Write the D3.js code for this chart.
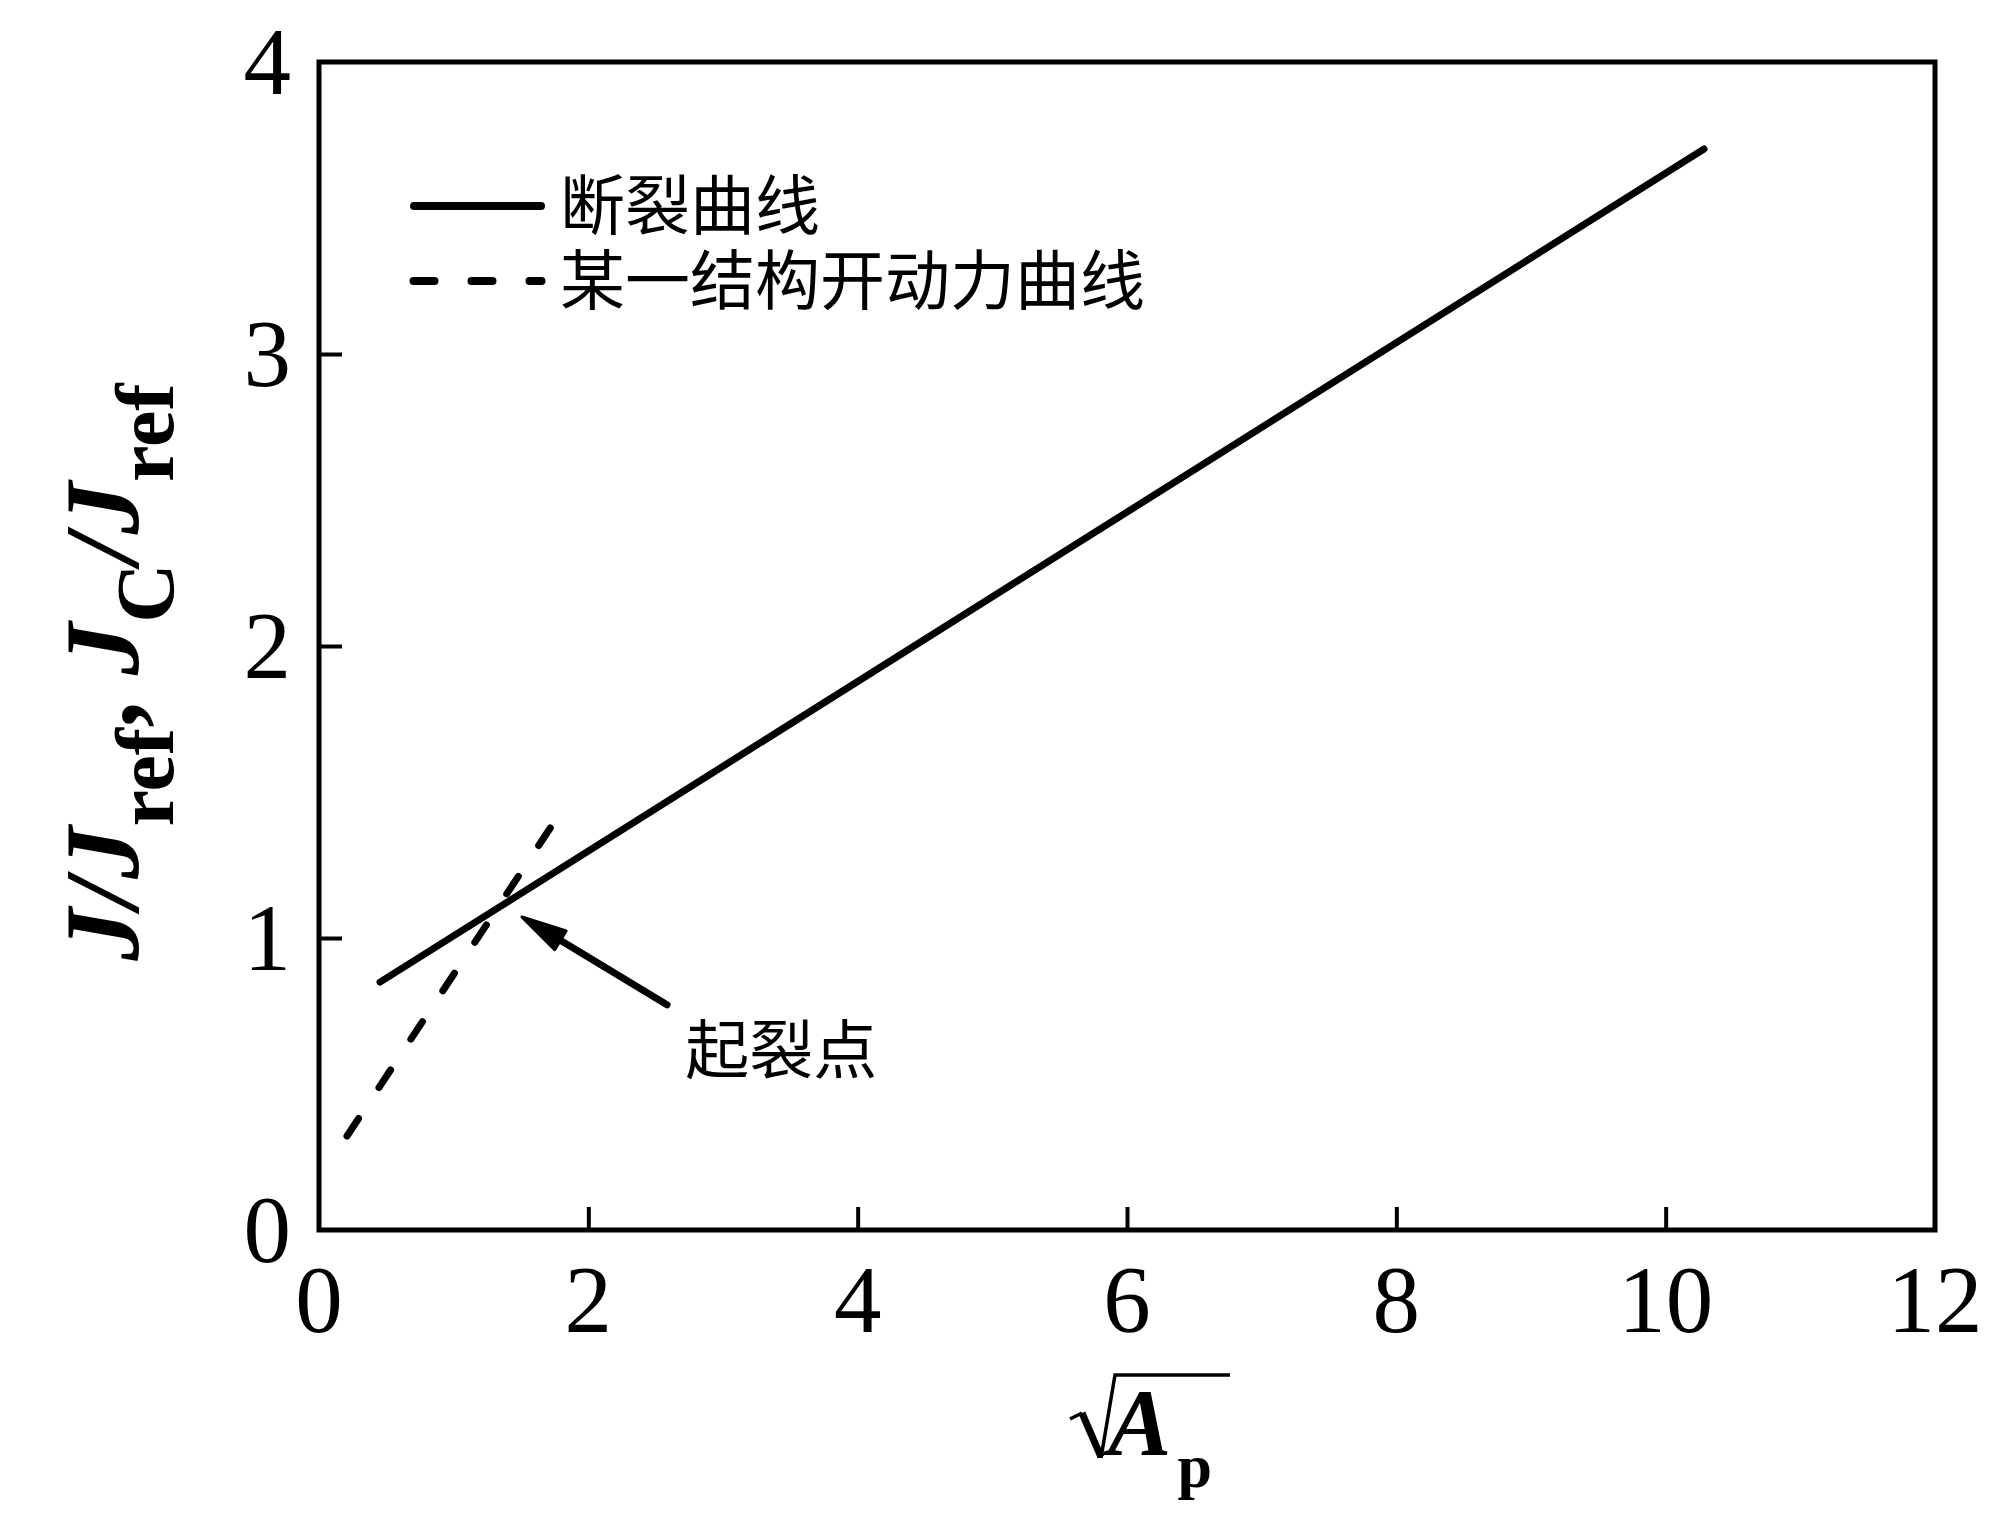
<!DOCTYPE html>
<html>
<head>
<meta charset="utf-8">
<script src="https://cdn.jsdelivr.net/npm/d3@7"></script>
<style>
  html, body { margin: 0; padding: 0; background: #ffffff; }
  svg { display: block; }
</style>
</head>
<body>
<svg id="chart" width="2000" height="1521"></svg>
<script>
// ---- data ----
const fractureX = [0.453, 10.285];
const fractureY = [0.849, 3.702];
const drivingX = [0.208, 1.752];
const drivingY = [0.322, 1.401];
const xTicks = [0, 2, 4, 6, 8, 10, 12];
const yTicks = [0, 1, 2, 3, 4];
const legendLabels = ["断裂曲线", "某一结构开动力曲线"];
const annotationText = "起裂点";
const arrowTip = [1.507, 1.072];
const arrowTail = [2.584, 0.771];
const annotationPos = [2.72, 0.616];

(function () {
// ---- layout ----
const mLeft = 319, mRight = 1935, mTop = 62, mBottom = 1230;
const svg = d3.select("#chart");
const x = d3.scaleLinear().domain([0, 12]).range([mLeft, mRight]);
const y = d3.scaleLinear().domain([0, 4]).range([mBottom, mTop]);
const serif = "'Liberation Serif', 'Times New Roman', serif";
const cjk = "'Noto Sans CJK SC', sans-serif";

// axes ticks (inward)
const xAxis = d3.axisBottom(x).tickValues(xTicks.slice(1, -1)).tickSizeInner(-23).tickSizeOuter(0).tickFormat("");
const yAxis = d3.axisLeft(y).tickValues(yTicks.slice(1, -1)).tickSizeInner(-23).tickSizeOuter(0).tickFormat("");
const gx = svg.append("g").attr("transform", `translate(0,${mBottom})`).call(xAxis);
const gy = svg.append("g").attr("transform", `translate(${mLeft},0)`).call(yAxis);
[gx, gy].forEach(g => {
  g.select(".domain").remove();
  g.selectAll(".tick line").attr("stroke", "#000").attr("stroke-width", 4);
});

// frame
svg.append("rect")
  .attr("x", mLeft).attr("y", mTop)
  .attr("width", mRight - mLeft).attr("height", mBottom - mTop)
  .attr("fill", "none").attr("stroke", "#000").attr("stroke-width", 5);

// tick labels
svg.append("g").selectAll("text").data(xTicks).join("text")
  .attr("x", d => x(d)).attr("y", 1332)
  .attr("text-anchor", "middle")
  .attr("font-family", serif).attr("font-size", 95).attr("fill", "#000")
  .text(d => d);
svg.append("g").selectAll("text").data(yTicks).join("text")
  .attr("x", 291).attr("y", d => y(d) + 32)
  .attr("text-anchor", "end")
  .attr("font-family", serif).attr("font-size", 95).attr("fill", "#000")
  .text(d => d);

// lines
const line = d3.line().x(d => x(d[0])).y(d => y(d[1]));
svg.append("path")
  .datum(d3.zip(fractureX, fractureY))
  .attr("d", line)
  .attr("fill", "none").attr("stroke", "#000").attr("stroke-width", 7)
  .attr("stroke-linecap", "round");
svg.append("path")
  .datum(d3.zip(drivingX, drivingY))
  .attr("d", line)
  .attr("fill", "none").attr("stroke", "#000").attr("stroke-width", 7)
  .attr("stroke-linecap", "round").attr("stroke-dasharray", "21,37");

// legend
const legendY = [206, 281];
svg.append("line").attr("x1", 414).attr("x2", 541).attr("y1", legendY[0]).attr("y2", legendY[0])
  .attr("stroke", "#000").attr("stroke-width", 8).attr("stroke-linecap", "round");
svg.append("line").attr("x1", 413.5).attr("x2", 541.5).attr("y1", legendY[1]).attr("y2", legendY[1])
  .attr("stroke", "#000").attr("stroke-width", 8).attr("stroke-linecap", "round")
  .attr("stroke-dasharray", "21,37");
svg.append("g").selectAll("text").data(legendLabels).join("text")
  .attr("x", 560).attr("y", (d, i) => legendY[i] + 23)
  .attr("font-family", cjk).attr("font-size", 65).attr("fill", "#000")
  .text(d => d);

// annotation arrow
const tx = x(arrowTip[0]), ty = y(arrowTip[1]);
const sx = x(arrowTail[0]), sy = y(arrowTail[1]);
const dx = tx - sx, dy = ty - sy, len = Math.hypot(dx, dy);
const ux = dx / len, uy = dy / len;
const headLen = 45, headHalf = 11;
const bx = tx - ux * headLen, by = ty - uy * headLen;
svg.append("line").attr("x1", sx).attr("y1", sy).attr("x2", bx + ux * 4).attr("y2", by + uy * 4)
  .attr("stroke", "#000").attr("stroke-width", 7).attr("stroke-linecap", "round");
svg.append("path")
  .attr("d", `M${tx},${ty} L${bx - uy * headHalf},${by + ux * headHalf} L${bx + uy * headHalf},${by - ux * headHalf} Z`)
  .attr("fill", "#000").attr("stroke", "#000").attr("stroke-width", 3).attr("stroke-linejoin", "round");
svg.append("text")
  .attr("x", x(annotationPos[0])).attr("y", y(annotationPos[1]) + 23)
  .attr("font-family", cjk).attr("font-size", 64).attr("fill", "#000")
  .text(annotationText);

// x-axis title: sqrt(A_p)
svg.append("path")
  .attr("d", "M1070,1419 L1082,1413")
  .attr("stroke", "#000").attr("stroke-width", 3.5).attr("fill", "none");
svg.append("path")
  .attr("d", "M1082,1413 L1101,1457")
  .attr("stroke", "#000").attr("stroke-width", 7).attr("fill", "none");
svg.append("path")
  .attr("d", "M1101,1458 L1115,1375 L1230,1375")
  .attr("stroke", "#000").attr("stroke-width", 3.5).attr("fill", "none");
const xt = svg.append("text").attr("x", 1108).attr("y", 1455)
  .attr("font-family", serif).attr("font-weight", "bold").attr("fill", "#000");
xt.append("tspan").attr("font-size", 95).attr("font-style", "italic").text("A");
xt.append("tspan").attr("font-size", 62).attr("dy", 32).attr("dx", 6).text("p");

// y-axis title
const yt = svg.append("text")
  .attr("transform", "translate(138,672) rotate(-90)")
  .attr("text-anchor", "middle")
  .attr("font-family", serif).attr("font-weight", "bold").attr("font-size", 105).attr("fill", "#000");
yt.append("tspan").attr("font-style", "italic").text("J/J");
yt.append("tspan").attr("font-size", 82).attr("dy", 35).text("ref");
yt.append("tspan").attr("dy", -35).text(", ");
yt.append("tspan").attr("font-style", "italic").text("J");
yt.append("tspan").attr("font-size", 82).attr("dy", 35).text("C");
yt.append("tspan").attr("font-style", "italic").attr("dy", -35).text("/J");
yt.append("tspan").attr("font-size", 82).attr("dy", 35).text("ref");
})();
</script>
</body>
</html>
